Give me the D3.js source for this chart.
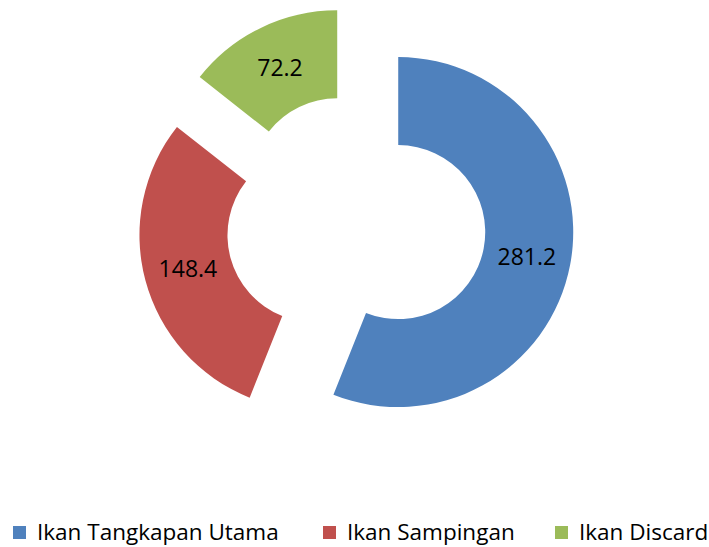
<!DOCTYPE html>
<html>
<head>
<meta charset="utf-8">
<script src="https://cdn.jsdelivr.net/npm/d3@7"></script>
<style>
  body { margin: 0; background: #fff; }
  text { font-family: "Open Sans", sans-serif; }
</style>
</head>
<body>
<script>
//data
var categories = ["Ikan Tangkapan Utama", "Ikan Sampingan", "Ikan Discard"];
var values = [281.2, 148.4, 72.2];
var colors = ["#4F81BD", "#C0504D", "#9BBB59"];

var width = 709;
var height = 547;
var cx = 356;
var cy = 224;
var outerR = 175;
var innerR = 87;
var explode = 43;
var fontSize = 23;

var svg = d3.select("body").append("svg")
    .attr("width", width)
    .attr("height", height);

var items = categories.map(function(c, i){
    return {name: c, value: values[i], color: colors[i]};
});

var pie = d3.pie()
    .sort(null)
    .value(function(d){ return d.value; });

var arc = d3.arc()
    .innerRadius(innerR)
    .outerRadius(outerR);

var labelArc = d3.arc()
    .innerRadius((innerR + outerR) / 2)
    .outerRadius((innerR + outerR) / 2);

var chart = svg.append("g")
    .attr("transform", "translate(" + cx + ", " + cy + ")");

//exploded slices
var slices = chart.selectAll(".slice")
    .data(pie(items))
    .enter()
    .append("g")
    .attr("class", "slice")
    .attr("transform", function(d){
        var a = (d.startAngle + d.endAngle) / 2;
        return "translate(" + (explode * Math.sin(a)) + ", " + (-explode * Math.cos(a)) + ")";
    });

slices.append("path")
    .attr("d", arc)
    .style("fill", function(d){ return d.data.color; });

slices.append("text")
    .attr("transform", function(d){ return "translate(" + labelArc.centroid(d) + ")"; })
    .attr("text-anchor", "middle")
    .attr("dy", "0.36em")
    .style("font-size", fontSize + "px")
    .style("fill", "#000")
    .text(function(d){ return d.data.value.toFixed(1); });

//legend (one row at the bottom)
var legend = svg.append("g").attr("class", "legend");
var boxSize = 13;
var boxGap = 11;
var baseline = 540;
var legendX = [13, 323, 555];

var entries = legend.selectAll(".legendItem")
    .data(items)
    .enter()
    .append("g")
    .attr("class", "legendItem")
    .attr("transform", function(d, i){
        return "translate(" + legendX[i] + ", " + baseline + ")";
    });

entries.append("rect")
    .attr("width", boxSize)
    .attr("height", boxSize)
    .attr("y", -boxSize - 1)
    .style("fill", function(d){ return d.color; });

entries.append("text")
    .attr("x", boxSize + boxGap)
    .style("font-size", "22.5px")
    .style("fill", "#000")
    .text(function(d){ return d.name; });
</script>
</body>
</html>
